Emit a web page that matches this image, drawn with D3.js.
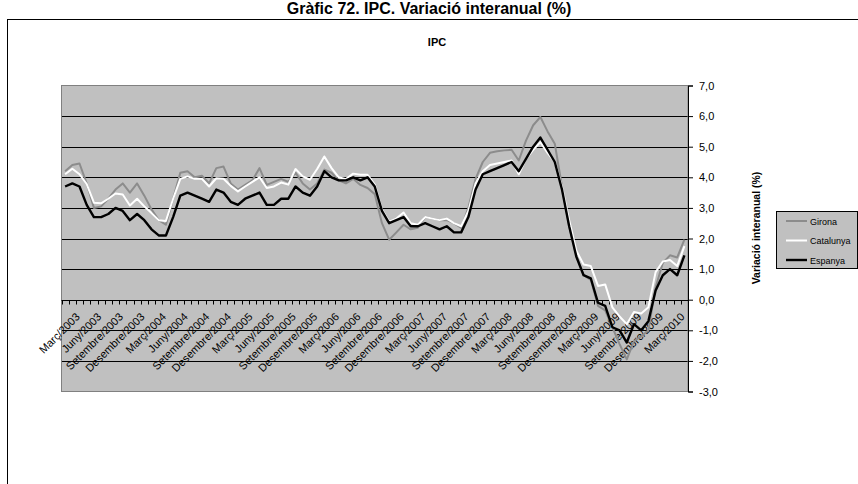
<!DOCTYPE html>
<html><head><meta charset="utf-8">
<script src="https://cdn.jsdelivr.net/npm/d3@7"></script>
<style>body{margin:0;background:#fff;}svg{display:block;font-family:Arial,"Liberation Sans",sans-serif;}</style>
</head><body>
<svg id="c" width="858" height="484"></svg>
<script>
const monthNames = ["Gener","Febrer","Març","Abril","Maig","Juny","Juliol","Agost","Setembre","Octubre","Novembre","Desembre"];
const years = [2003,2004,2005,2006,2007,2008,2009,2010];
const categories = [];
years.forEach(y => monthNames.forEach((m, k) => { if (y < 2010 || k <= 2) categories.push(m + "/" + y); }));
const tickLabels = categories.filter(c => /^(Març|Juny|Setembre|Desembre)\//.test(c));
const yTicks = [7,6,5,4,3,2,1,0,-1,-2,-3];

const girona = [4.2,4.4,4.45,3.8,3.0,3.05,3.3,3.6,3.8,3.5,3.8,3.4,
  2.95,2.6,2.45,3.3,4.15,4.2,4.0,4.05,3.8,4.3,4.35,3.8,
  3.6,3.75,3.9,4.3,3.75,3.85,3.95,3.85,4.15,3.8,3.6,3.8,
  4.25,4.15,3.9,3.8,3.95,3.75,3.65,3.45,2.5,1.96,2.2,2.45,
  2.3,2.35,2.7,2.65,2.6,2.6,2.5,2.35,3.0,3.95,4.5,4.8,
  4.85,4.88,4.9,4.55,5.2,5.7,5.97,5.5,5.1,3.7,2.4,1.45,
  0.8,0.65,-0.2,-0.35,-0.9,-1.45,-1.95,-1.35,-1.2,-1.0,0.4,1.2,
  1.45,1.38,1.96];
const catalunya = [4.1,4.28,4.1,3.78,3.17,3.15,3.3,3.47,3.44,3.08,3.3,3.05,
  2.83,2.6,2.57,3.3,3.95,4.03,3.95,3.95,3.7,3.97,3.95,3.72,
  3.54,3.7,3.85,4.0,3.65,3.7,3.83,3.76,4.27,4.03,3.92,4.27,
  4.68,4.3,4.0,3.94,4.12,4.08,4.08,3.76,2.95,2.55,2.65,2.85,
  2.5,2.45,2.7,2.65,2.6,2.65,2.5,2.4,2.9,3.8,4.2,4.4,
  4.45,4.5,4.55,4.1,4.6,4.9,5.15,4.8,4.5,3.7,2.6,1.6,
  1.15,1.1,0.45,0.5,-0.25,-0.55,-0.8,-0.4,-0.45,-0.25,0.9,1.25,
  1.3,1.1,1.75];
const espanya = [3.7,3.8,3.7,3.1,2.7,2.7,2.8,3.0,2.9,2.6,2.8,2.6,
  2.3,2.1,2.1,2.7,3.4,3.5,3.4,3.3,3.2,3.6,3.5,3.2,
  3.1,3.3,3.4,3.5,3.1,3.1,3.3,3.3,3.7,3.5,3.4,3.7,
  4.2,4.0,3.9,3.9,4.0,3.9,4.0,3.7,2.9,2.5,2.6,2.7,
  2.4,2.4,2.5,2.4,2.3,2.4,2.2,2.2,2.7,3.6,4.1,4.2,
  4.3,4.4,4.5,4.2,4.6,5.0,5.3,4.9,4.5,3.6,2.4,1.4,
  0.8,0.7,-0.1,-0.2,-0.9,-1.0,-1.4,-0.8,-1.0,-0.7,0.3,0.8,
  1.0,0.8,1.45];
const seriesNames = ["Girona","Catalunya","Espanya"];
const seriesValues = [girona, catalunya, espanya];
const seriesColors = ["#8c8c8c","#ffffff","#000000"];
const seriesWidths = [2,2,2.4];

const svg = d3.select("#c");
const L = 61.5, R = 688, T = 85.5, B = 391.5;
const x = d3.scaleBand().domain(categories).range([L, R]).padding(0);
const y = d3.scaleLinear().domain([-3, 7]).range([B, T]);
const cx = c => x(c) + x.bandwidth() / 2;

// outer title and frame
svg.append("text").attr("x", 429).attr("y", 14).attr("text-anchor", "middle")
  .attr("font-size", 16).attr("font-weight", "bold").text("Gràfic 72. IPC. Variació interanual (%)");
svg.append("rect").attr("x", 7.5).attr("y", 19.5).attr("width", 870).attr("height", 480)
  .attr("fill", "none").attr("stroke", "#000").attr("stroke-width", 1);
svg.append("text").attr("x", 437).attr("y", 46).attr("text-anchor", "middle")
  .attr("font-size", 11).attr("font-weight", "bold").text("IPC");

// plot area
svg.append("rect").attr("x", L).attr("y", T).attr("width", R - L).attr("height", B - T).attr("fill", "#c0c0c0");
svg.append("g").selectAll("line").data(yTicks.filter(v => v !== 7 && v !== -3)).join("line")
  .attr("x1", L).attr("x2", R).attr("y1", d => Math.round(y(d)) + 0.5).attr("y2", d => Math.round(y(d)) + 0.5)
  .attr("stroke", "#000").attr("stroke-width", 1);
svg.append("rect").attr("x", L).attr("y", T).attr("width", R - L).attr("height", B - T)
  .attr("fill", "none").attr("stroke", "#808080").attr("stroke-width", 1);

// right y axis
const yAxis = d3.axisRight(y).tickValues(yTicks).tickSize(5).tickPadding(6)
  .tickFormat(d => d3.format(".1f")(d).replace(".", ",").replace("−", "-"));
const ga = svg.append("g").attr("transform", `translate(${R},0)`).call(yAxis);
ga.select(".domain").attr("stroke", "#000");
ga.selectAll(".tick line").attr("stroke", "#000");
ga.selectAll("text").attr("font-size", 11).attr("font-family", "Arial, 'Liberation Sans', sans-serif").attr("fill", "#000");

svg.append("text").attr("transform", "translate(760,228) rotate(-90)").attr("text-anchor", "middle")
  .attr("font-size", 10.5).attr("font-weight", "bold").text("Variació interanual (%)");

// x axis at zero
const y0 = Math.round(y(0)) + 0.5;
svg.append("line").attr("x1", L).attr("x2", R).attr("y1", y0).attr("y2", y0).attr("stroke", "#000");
svg.append("g").selectAll("line").data(categories.concat(["__end"])).join("line")
  .attr("x1", d => Math.round(d === "__end" ? R : x(d)) + 0.5)
  .attr("x2", d => Math.round(d === "__end" ? R : x(d)) + 0.5)
  .attr("y1", y0).attr("y2", y0 + 4).attr("stroke", "#000");
svg.append("g").selectAll("text").data(tickLabels).join("text")
  .attr("transform", d => `translate(${cx(d) + 1},${y0 + 17}) rotate(-45)`)
  .attr("text-anchor", "end").attr("font-size", 11).attr("fill", "#000").text(d => d);

// lines
const line = d3.line().x((d, i) => cx(categories[i])).y(d => y(d));
seriesValues.forEach((vals, k) => {
  svg.append("path").datum(vals).attr("d", line).attr("fill", "none")
    .attr("stroke", seriesColors[k]).attr("stroke-width", seriesWidths[k]).attr("stroke-linejoin", "round");
});

// legend
const lg = svg.append("g");
lg.append("rect").attr("x", 776.5).attr("y", 211.5).attr("width", 81).attr("height", 57)
  .attr("fill", "#c0c0c0").attr("stroke", "#000");
seriesNames.forEach((n, k) => {
  const yy = 221 + k * 19.5;
  lg.append("line").attr("x1", 786).attr("x2", 807).attr("y1", yy).attr("y2", yy)
    .attr("stroke", seriesColors[k]).attr("stroke-width", seriesWidths[k]);
  lg.append("text").attr("x", 810).attr("y", yy + 3.5).attr("font-size", 9).text(n);
});
</script>
</body></html>
